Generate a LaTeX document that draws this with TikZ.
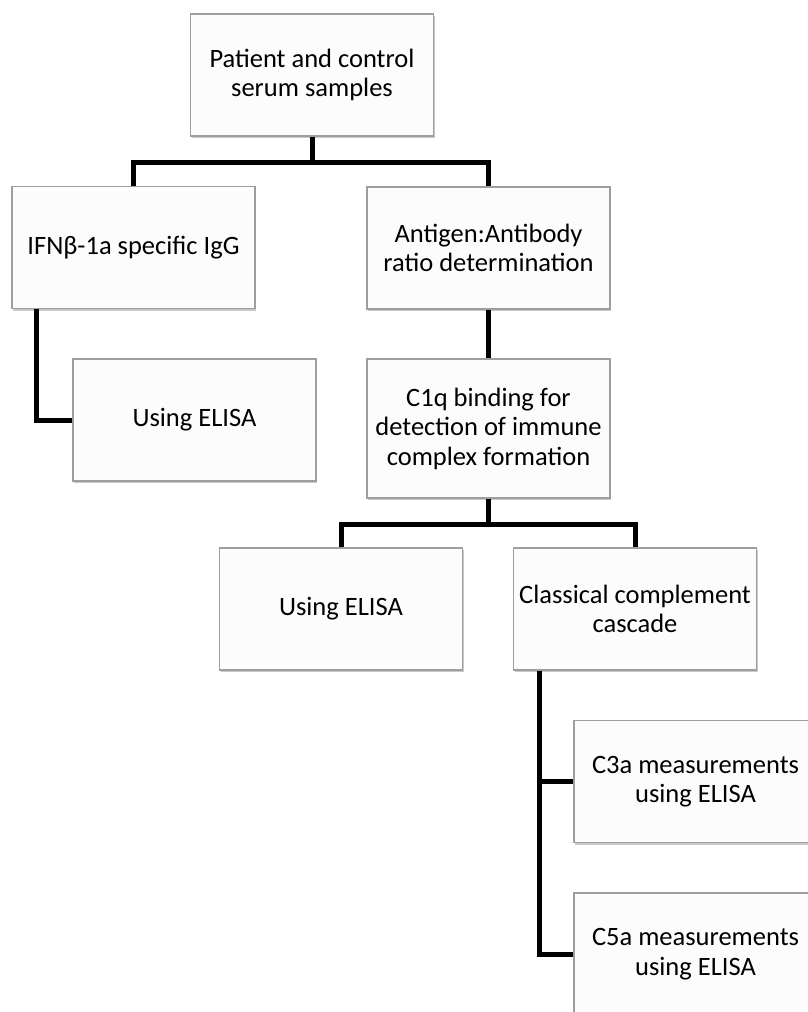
\documentclass[tikz,border=0pt]{standalone}
\usepackage{fontspec}
\setmainfont{Carlito}
\usetikzlibrary{shadows,calc}
\begin{document}
\begin{tikzpicture}[x=1pt,y=-1pt,
  box/.style={draw=black!38, line width=1.2pt, fill=white!99!black,
    minimum width=243pt, align=center, inner sep=0pt,
    font=\fontsize{26.5}{29.5}\selectfont,
    drop shadow={shadow xshift=1.2pt, shadow yshift=-2pt, opacity=0.35, fill=black!60}},
  conn/.style={line width=5pt, line join=miter, draw=black}]
\clip (0,0) rectangle (808,1012);
\fill[white] (0,0) rectangle (808,1012);

% boxes (centre positions in px of the page)
\node[box, minimum height=122pt] (top)  at (312,75)    {Patient and control\\serum samples};
\node[box, minimum height=122pt] (ifn)  at (133.5,247.5) {IFNβ-1a specific IgG};
\node[box, minimum height=122pt] (ant)  at (488.5,248) {Antigen:Antibody\\ratio determination};
\node[box, minimum height=122pt] (el1)  at (194.5,420) {Using ELISA};
\node[box, minimum height=139pt] (c1q)  at (488.5,428.5) {C1q binding for\\detection of immune\\complex formation};
\node[box, minimum height=122pt] (el2)  at (341,609)   {Using ELISA};
\node[box, minimum height=122pt] (cls)  at (635,609)   {Classical complement\\cascade};
\node[box, minimum height=122pt] (c3a)  at (695.5,781.5) {C3a measurements\\using ELISA};
\node[box, minimum height=122pt] (c5a)  at (695.5,954)  {C5a measurements\\using ELISA};

% bus lines
\coordinate (b1) at (312,162);
\coordinate (b2) at (488.5,524);

% connectors
\draw[conn] (top.south) -- (b1);
\draw[conn] (ifn.north) |- (b1) -| (ant.north);
\draw[conn] ($(ifn.south west)+(25,0)$) |- (el1.west);
\draw[conn] (ant.south) -- (c1q.north);
\draw[conn] (c1q.south) -- (b2);
\draw[conn] (el2.north) |- (b2) -| (cls.north);
\draw[conn] ($(cls.south west)+(27,0)$) |- (c5a.west);
\draw[conn] ($(cls.south west)+(27,0)$) |- (c3a.west);
\end{tikzpicture}
\end{document}
